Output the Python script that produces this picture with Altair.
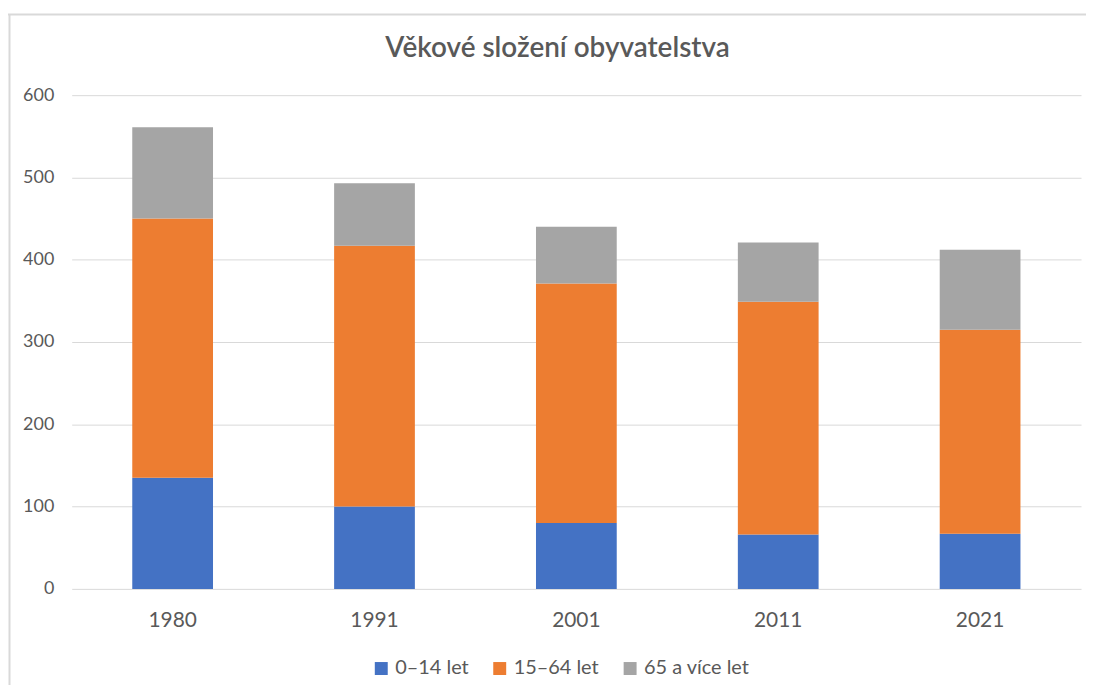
import altair as alt
import pandas as pd

years = ["1980", "1991", "2001", "2011", "2021"]
groups = ["0–14 let", "15–64 let", "65 a více let"]
young = [135, 100, 80, 66, 67]
working = [315, 317, 291, 283, 248]
old = [111, 76, 69, 72, 97]
colors = ["#4472C4", "#ED7D31", "#A5A5A5"]
title_text = "Věkové složení obyvatelstva"

rows = []
for i, y in enumerate(years):
    for gi, (g, vals) in enumerate(zip(groups, [young, working, old])):
        rows.append({"rok": y, "skupina": g, "hodnota": vals[i], "poradi": gi})
df = pd.DataFrame(rows)

FONT = "Lato"
TXT = "#595959"

bars = alt.Chart(df).mark_bar().encode(
    x=alt.X("rok:N", sort=years, title=None,
            scale=alt.Scale(paddingInner=0.6, paddingOuter=0.3),
            axis=alt.Axis(labelAngle=0, labelFontSize=21, labelColor=TXT, labelFont=FONT,
                          ticks=False, domain=False, labelPadding=21, grid=False)),
    y=alt.Y("hodnota:Q", stack="zero", title=None,
            scale=alt.Scale(domain=[0, 600], nice=False),
            axis=alt.Axis(values=[0, 100, 200, 300, 400, 500, 600], labelFontSize=18,
                          labelColor=TXT, labelFont=FONT, ticks=False, domain=False,
                          labelPadding=18, gridColor="#D9D9D9", gridWidth=1)),
    color=alt.Color("skupina:N", sort=groups,
                    scale=alt.Scale(domain=groups, range=colors),
                    legend=alt.Legend(title=None, orient="none", legendX=301, legendY=566,
                                      direction="horizontal", symbolType="square",
                                      symbolSize=169, symbolStrokeWidth=0,
                                      labelFontSize=20, labelColor=TXT, labelFont=FONT,
                                      labelOffset=4, columnPadding=21)),
    order=alt.Order("poradi:Q"),
)

frame_df = pd.DataFrame({"k": [0]})
top_line = alt.Chart(frame_df).mark_rule(color="#D9D9D9", strokeWidth=2).encode(
    x=alt.value(-67), x2=alt.value(1030), y=alt.value(-81)
)
left_line = alt.Chart(frame_df).mark_rule(color="#D9D9D9", strokeWidth=2).encode(
    x=alt.value(-62.5), y=alt.value(-81), y2=alt.value(620)
)
title_df = pd.DataFrame({"t": [title_text]})
title = alt.Chart(title_df).mark_text(
    font=FONT, fontSize=28, fontWeight=600, color=TXT, align="center", baseline="alphabetic"
).encode(text="t:N", x=alt.value(488), y=alt.value(-38))

chart = alt.layer(bars, top_line, left_line, title).properties(
    width=1014, height=496,
    autosize=alt.AutoSizeParams(type="none"),
    padding={"left": 64, "top": 86, "right": 5, "bottom": 95},
).configure_view(stroke=None)

chart.save("out.html", embed_options={"renderer": "svg", "actions": False})
